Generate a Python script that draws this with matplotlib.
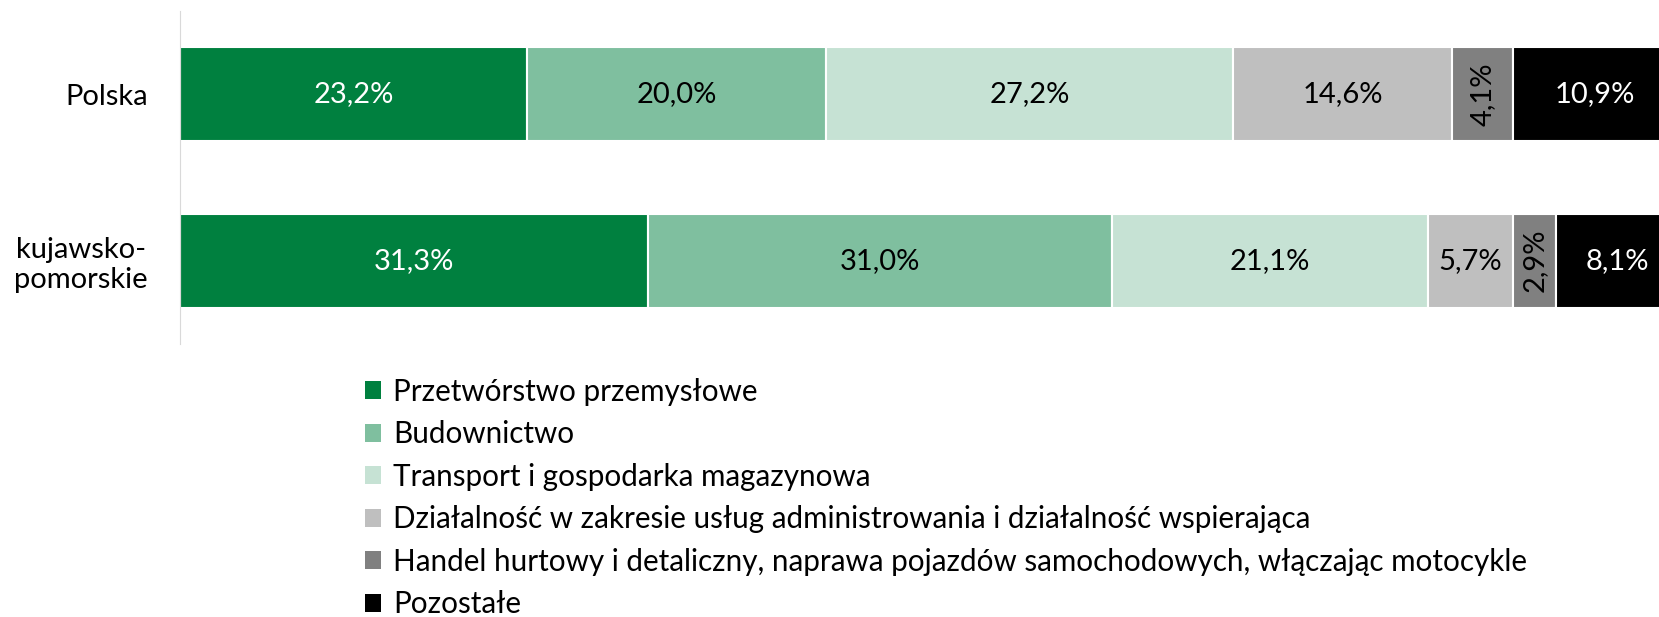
import matplotlib
matplotlib.use('Agg')
import matplotlib.pyplot as plt
from matplotlib.patches import Patch

plt.rcParams['font.family'] = ['Lato', 'DejaVu Sans']

# dane
regiony = ["Polska", "kujawsko-\npomorskie"]
sekcje = [
    "Przetwórstwo przemysłowe",
    "Budownictwo",
    "Transport i gospodarka magazynowa",
    "Działalność w zakresie usług administrowania i działalność wspierająca",
    "Handel hurtowy i detaliczny, naprawa pojazdów samochodowych, włączając motocykle",
    "Pozostałe",
]
polska = [23.2, 20.0, 27.2, 14.6, 4.1, 10.9]
kujawsko = [31.3, 31.0, 21.1, 5.7, 2.9, 8.1]

kolory = ["#00803F", "#7FBF9F", "#C6E2D4", "#BFBFBF", "#808080", "#000000"]
kolory_tekstu = ["white", "black", "black", "black", "black", "white"]

wartosci = [polska, kujawsko]

fig = plt.figure(figsize=(16.59, 6.17), dpi=100)
ax = fig.add_axes([180 / 1659, 1 - 344 / 617, 1 - 180 / 1659, 333 / 617])

for i, vals in enumerate(wartosci):
    left = 0
    for j, v in enumerate(vals):
        ax.barh(i, v, left=left, height=0.565, color=kolory[j],
                edgecolor="white", linewidth=1.5)
        rot = 90 if v < 5 else 0
        ax.text(left + v / 2, i, f"{v:.1f}%".replace(".", ","),
                ha="center", va="center", rotation=rot,
                color=kolory_tekstu[j], fontsize=21, clip_on=False)
        left += v

# w oryginale ostatni segment jest obcięty przez krawędź wykresu
ax.set_xlim(0, 98.86)
ax.set_ylim(1.5, -0.5)
ax.set_yticks(range(len(regiony)))
ax.set_yticklabels(regiony, fontsize=21, ha="right", multialignment="center")
ax.tick_params(axis="y", length=0, pad=23)
ax.tick_params(axis="x", length=0, labelbottom=False)
for s in ["top", "right", "bottom"]:
    ax.spines[s].set_visible(False)
ax.spines["left"].set_color("#D9D9D9")

handles = [Patch(facecolor=c, edgecolor="none") for c in kolory]
fig.legend(handles, sekcje, loc="upper left", bbox_to_anchor=(353 / 1659, 1 - 366 / 617),
           frameon=False, fontsize=21.3, handlelength=0.55, handleheight=0.55,
           handletextpad=0.4, labelspacing=0.49, borderaxespad=0)

plt.savefig("out.png", dpi=100)
plt.close()
